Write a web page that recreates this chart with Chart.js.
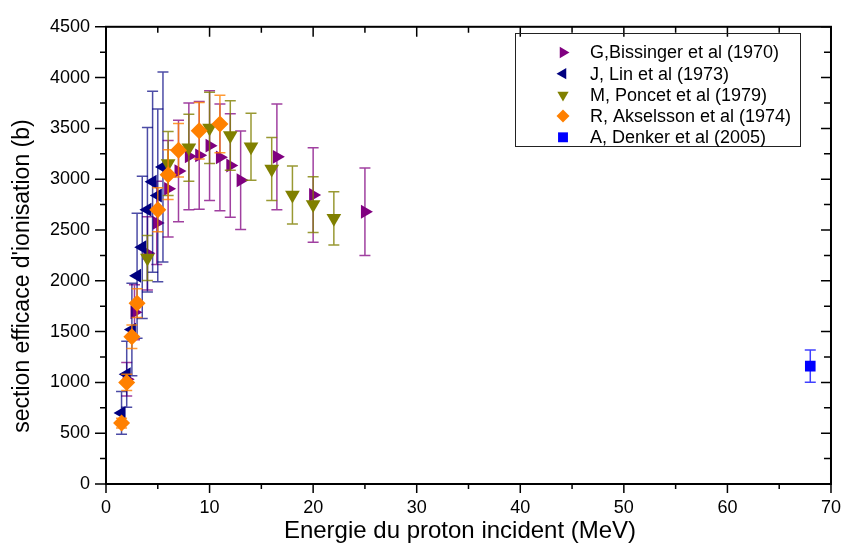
<!DOCTYPE html>
<html>
<head>
<meta charset="utf-8">
<script src="https://cdn.jsdelivr.net/npm/chart.js@4.4.1/dist/chart.umd.min.js"></script>
<style>
  body { margin: 0; background: #fff; }
  canvas { display: block; }
</style>
</head>
<body>
<canvas id="myChart" width="854" height="548"></canvas>
<script>
// G, Bissinger et al (1970)
const bisX = [2, 2.75, 4, 4.9, 6, 7, 8, 9, 10, 11, 12, 13, 16.5, 20, 25];
const bisY = [1030, 1690, 2270, 2570, 2905, 3080, 3225, 3235, 3330, 3215, 3135, 2990, 3220, 2845, 2680];
const bisErr = [165, 270, 360, 410, 475, 500, 525, 530, 540, 525, 510, 485, 520, 465, 430];

// J, Lin et al (1973)
const linX = [1.5, 2, 2.5, 3, 3.5, 4, 4.5, 5, 5.5];
const linY = [700, 1080, 1520, 2050, 2330, 2700, 2975, 2840, 3120];
const linErr = [210, 325, 455, 615, 700, 810, 890, 850, 935];

// M, Poncet et al (1979)
const ponX = [4, 6, 8, 10, 12, 14, 16, 18, 20, 22];
const ponY = [2225, 3155, 3310, 3505, 3430, 3320, 3100, 2845, 2750, 2615];
const ponErr = [222, 315, 330, 350, 343, 330, 310, 285, 275, 262];

// R, Akselsson et al (1974)
const akeX = [1.5, 2, 2.5, 3, 5, 6, 7, 9, 11];
const akeY = [600, 1000, 1450, 1780, 2700, 3045, 3285, 3478, 3543];
const akeErr = [48, 80, 116, 142, 216, 244, 263, 278, 283];

// A, Denker et al (2005)
const denX = [68];
const denY = [1160];
const denErr = [158];

const xTitle = 'Energie du proton incident (MeV)';
const yTitle = "section efficace d'ionisation (b)";

const FONT = "'Liberation Sans', Arial, Helvetica, sans-serif";

function pts(xs, ys) {
    return xs.map((x, i) => ({ x: x, y: ys[i] }));
}

const series = [
    { label: 'G,Bissinger et al (1970)', x: bisX, y: bisY, err: bisErr, color: '#800080', bar: 'rgba(128,0,128,0.75)', style: 'triangle', rot: 90, r: 8 },
    { label: 'J, Lin et al (1973)', x: linX, y: linY, err: linErr, color: '#000080', bar: 'rgba(0,0,128,0.7)', style: 'triangle', rot: -90, r: 8 },
    { label: 'M, Poncet et al (1979)', x: ponX, y: ponY, err: ponErr, color: '#808000', bar: 'rgba(128,128,0,0.8)', style: 'triangle', rot: 180, r: 8.5 },
    { label: 'R, Akselsson et al (1974)', x: akeX, y: akeY, err: akeErr, color: '#ff8000', bar: 'rgba(255,128,0,0.8)', style: 'rectRot', rot: 0, r: 8.5 },
    { label: 'A, Denker et al (2005)', x: denX, y: denY, err: denErr, color: '#0000ff', bar: 'rgba(0,0,255,0.75)', style: 'rect', rot: 0, r: 7.5 }
];

const data = {
    datasets: series.map((s, i) => ({
        label: s.label,
        data: pts(s.x, s.y),
        backgroundColor: s.color,
        borderColor: s.color,
        pointStyle: s.style,
        rotation: s.rot,
        pointRadius: s.r,
        pointBorderWidth: 0,
        order: series.length - i
    }))
};

function marker(ctx, style, rot, r, x, y) {
    ctx.beginPath();
    if (style === 'triangle') {
        let a = rot * Math.PI / 180;
        for (let k = 0; k < 3; k++) {
            const px = x + Math.sin(a) * r, py = y - Math.cos(a) * r;
            if (k === 0) ctx.moveTo(px, py); else ctx.lineTo(px, py);
            a += 2 * Math.PI / 3;
        }
    } else if (style === 'rectRot') {
        ctx.moveTo(x, y - r); ctx.lineTo(x + r, y); ctx.lineTo(x, y + r); ctx.lineTo(x - r, y);
    } else {
        const h = r * Math.SQRT1_2;
        ctx.rect(x - h, y - h, 2 * h, 2 * h);
    }
    ctx.closePath();
    ctx.fill();
}

const errorBars = {
    id: 'errorBars',
    beforeDatasetDraw(chart, args) {
        const s = series[args.index];
        const xs = chart.scales.x, ys = chart.scales.y;
        const ctx = chart.ctx;
        ctx.save();
        ctx.strokeStyle = s.bar;
        ctx.lineWidth = 1.5;
        s.x.forEach((xv, i) => {
            const px = xs.getPixelForValue(xv);
            const top = ys.getPixelForValue(s.y[i] + s.err[i]);
            const bot = ys.getPixelForValue(s.y[i] - s.err[i]);
            ctx.beginPath();
            ctx.moveTo(px, top); ctx.lineTo(px, bot);
            ctx.moveTo(px - 5.5, top); ctx.lineTo(px + 5.5, top);
            ctx.moveTo(px - 5.5, bot); ctx.lineTo(px + 5.5, bot);
            ctx.stroke();
        });
        ctx.restore();
    }
};

const frame = {
    id: 'frame',
    afterDraw(chart) {
        const ctx = chart.ctx;
        const a = chart.chartArea;
        const xs = chart.scales.x, ys = chart.scales.y;
        ctx.save();
        ctx.strokeStyle = '#000';
        ctx.lineWidth = 2;
        ctx.strokeRect(a.left, a.top, a.right - a.left, a.bottom - a.top);
        ctx.lineWidth = 1.5;
        ctx.beginPath();
        for (let v = 0; v <= 70; v += 5) {
            const px = xs.getPixelForValue(v);
            const major = v % 10 === 0;
            ctx.moveTo(px, a.bottom); ctx.lineTo(px, a.bottom + (major ? 9 : 5));
            ctx.moveTo(px, a.top); ctx.lineTo(px, a.top + (major ? 10 : 6));
        }
        for (let v = 0; v <= 4500; v += 250) {
            const py = ys.getPixelForValue(v);
            const major = v % 500 === 0;
            ctx.moveTo(a.left, py); ctx.lineTo(a.left - (major ? 11 : 6), py);
            ctx.moveTo(a.right, py); ctx.lineTo(a.right - (major ? 10 : 7), py);
        }
        ctx.stroke();

        // axis titles
        ctx.fillStyle = '#000';
        ctx.font = '24px ' + FONT;
        ctx.textAlign = 'center';
        ctx.textBaseline = 'alphabetic';
        ctx.fillText(xTitle, 460, 538);
        ctx.save();
        ctx.translate(23, 276);
        ctx.rotate(-Math.PI / 2);
        ctx.font = '23px ' + FONT;
        ctx.textBaseline = 'middle';
        ctx.fillText(yTitle, 0, 0);
        ctx.restore();

        // legend
        ctx.lineWidth = 1;
        ctx.strokeStyle = '#222';
        ctx.strokeRect(515.5, 33.5, 285, 113);
        ctx.font = '18px ' + FONT;
        ctx.textAlign = 'left';
        ctx.textBaseline = 'middle';
        series.forEach((s, i) => {
            const y = 52.5 + i * 21.2;
            ctx.fillStyle = s.color;
            marker(ctx, s.style, s.rot, s.style === 'rect' ? 7 : 6.5, 563, y);
            ctx.fillStyle = '#000';
            ctx.fillText(s.label, 590, y + 1);
        });
        ctx.restore();
    }
};

const config = {
    type: 'scatter',
    data: data,
    options: {
        responsive: false,
        animation: false,
        layout: { padding: { top: 15, right: 13, left: 0, bottom: 0 } },
        plugins: {
            legend: { display: false },
            tooltip: { enabled: false }
        },
        scales: {
            x: {
                type: 'linear',
                min: 0,
                max: 70,
                afterFit: (s) => { s.height = 64; },
                grid: { display: false, drawTicks: false },
                border: { display: false },
                ticks: { stepSize: 10, padding: 13, color: '#000', font: { family: FONT, size: 18 }, callback: (v) => String(v) }
            },
            y: {
                type: 'linear',
                min: 0,
                max: 4500,
                afterFit: (s) => { s.width = 106; },
                grid: { display: false, drawTicks: false },
                border: { display: false },
                ticks: { stepSize: 500, padding: 16, color: '#000', font: { family: FONT, size: 18 }, callback: (v) => String(v) }
            }
        }
    },
    plugins: [errorBars, frame]
};

const myChart = new Chart(document.getElementById('myChart'), config);
</script>
</body>
</html>
